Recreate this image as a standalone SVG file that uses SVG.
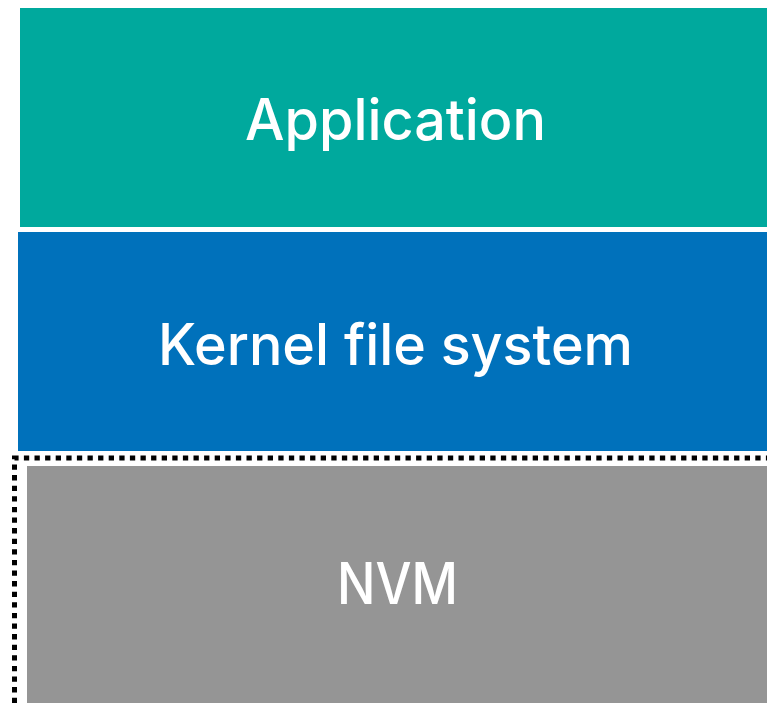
<svg xmlns="http://www.w3.org/2000/svg" width="767" height="707" viewBox="0 0 767 707">
  <style>
    .label { font-family: Inter, "Liberation Sans", Arial, sans-serif; font-weight: 500; font-size: 57px; fill: #ffffff; text-anchor: middle; }
  </style>
  <rect x="0" y="0" width="767" height="707" fill="#ffffff"/>
  <g id="application">
    <rect x="20" y="8" width="747" height="219" fill="#00A99D"/>
    <text class="label" x="395.5" y="140" textLength="301" lengthAdjust="spacingAndGlyphs">Application</text>
  </g>
  <g id="kernel-file-system">
    <rect x="18" y="232" width="749" height="219" fill="#0071BB"/>
    <text class="label" x="395.5" y="365" textLength="475" lengthAdjust="spacingAndGlyphs">Kernel file system</text>
  </g>
  <g id="nvm">
    <rect x="27" y="466" width="740" height="237" fill="#959595"/>
    <text class="label" x="397.5" y="604" textLength="121" lengthAdjust="spacingAndGlyphs">NVM</text>
  </g>
  <g id="connectors">
    <!-- dotted boundary around the NVM layer -->
    <path d="M14.5 703 V458 H767" fill="none" stroke="#000000" stroke-width="5" stroke-dasharray="5.3 5.3"/>
  </g>
</svg>
